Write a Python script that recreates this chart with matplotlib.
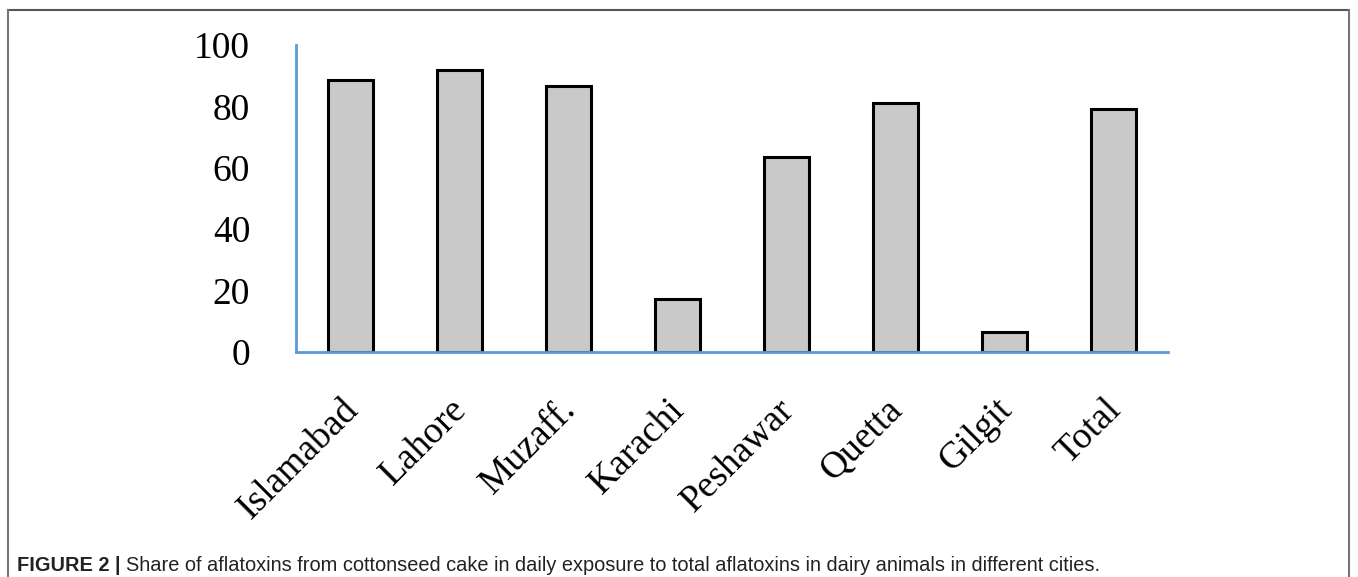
import matplotlib
matplotlib.use("Agg")
import matplotlib.pyplot as plt
from matplotlib.lines import Line2D
from matplotlib.transforms import ScaledTranslation

# data
cities = ["Islamabad", "Lahore", "Muzaff.", "Karachi", "Peshawar", "Quetta", "Gilgit", "Total"]
share = [88.6, 91.9, 86.6, 17.3, 63.5, 81.1, 6.6, 79.2]
yticks = [0, 20, 40, 60, 80, 100]

caption_head = "FIGURE 2 |"
caption_text = ("Share of aflatoxins from cottonseed cake in daily exposure to total "
                "aflatoxins in dairy animals in different cities.")

W, H = 1358, 577
fig = plt.figure(figsize=(W / 100, H / 100), dpi=100)

# axes box, placed in pixels of the reference
left, right, bottom, top = 296, 1168, 352, 45
ax = fig.add_axes([left / W, 1 - bottom / H, (right - left) / W, (bottom - top) / H])

x = list(range(len(cities)))
ax.bar(x, share, width=0.42, color="#c9c9c9", edgecolor="black", linewidth=2.2, zorder=2)

ax.set_xlim(-0.5, len(cities) - 0.5)
ax.set_ylim(0, 100)

for s in ["top", "right"]:
    ax.spines[s].set_visible(False)
for s in ["left", "bottom"]:
    ax.spines[s].set_color("#5b9bd5")
    ax.spines[s].set_linewidth(2)
    ax.spines[s].set_zorder(3)

serif = ["Liberation Serif", "DejaVu Serif"]
ax.set_yticks(yticks)
ax.set_yticklabels([str(v) for v in yticks], family=serif, fontsize=27)
ax.tick_params(axis="y", length=0, pad=33)

ax.set_xticks(x)
ax.set_xticklabels(cities, family=serif, fontsize=27, rotation=45,
                   ha="right", va="top", rotation_mode="anchor")
ax.tick_params(axis="x", length=0, pad=29)
shift = ScaledTranslation(-10 / 100, 0, fig.dpi_scale_trans)
for lab in ax.get_xticklabels():
    lab.set_transform(lab.get_transform() + shift)

# caption
sans = ["Liberation Sans Narrow", "Liberation Sans", "DejaVu Sans"]
t1 = fig.text(17 / W, 1 - 571 / H, caption_head, family=sans, fontsize=14.4,
              fontweight="bold", color="#222222", va="baseline")
fig.canvas.draw()
bb = t1.get_window_extent()
fig.text((bb.x1 + 6) / W, 1 - 571 / H, caption_text, family=sans, fontsize=14.4,
         color="#222222", va="baseline")

# frame round the figure panel
fc = "#777777"
fig.add_artist(Line2D([8 / W, 1349 / W], [1 - 10 / H, 1 - 10 / H], color="#555555", lw=1.5))
fig.add_artist(Line2D([8 / W, 8 / W], [1 - 10 / H, 0], color=fc, lw=1.5))
fig.add_artist(Line2D([1349 / W, 1349 / W], [1 - 10 / H, 0], color=fc, lw=1.5))

fig.savefig("out.png", dpi=100)
